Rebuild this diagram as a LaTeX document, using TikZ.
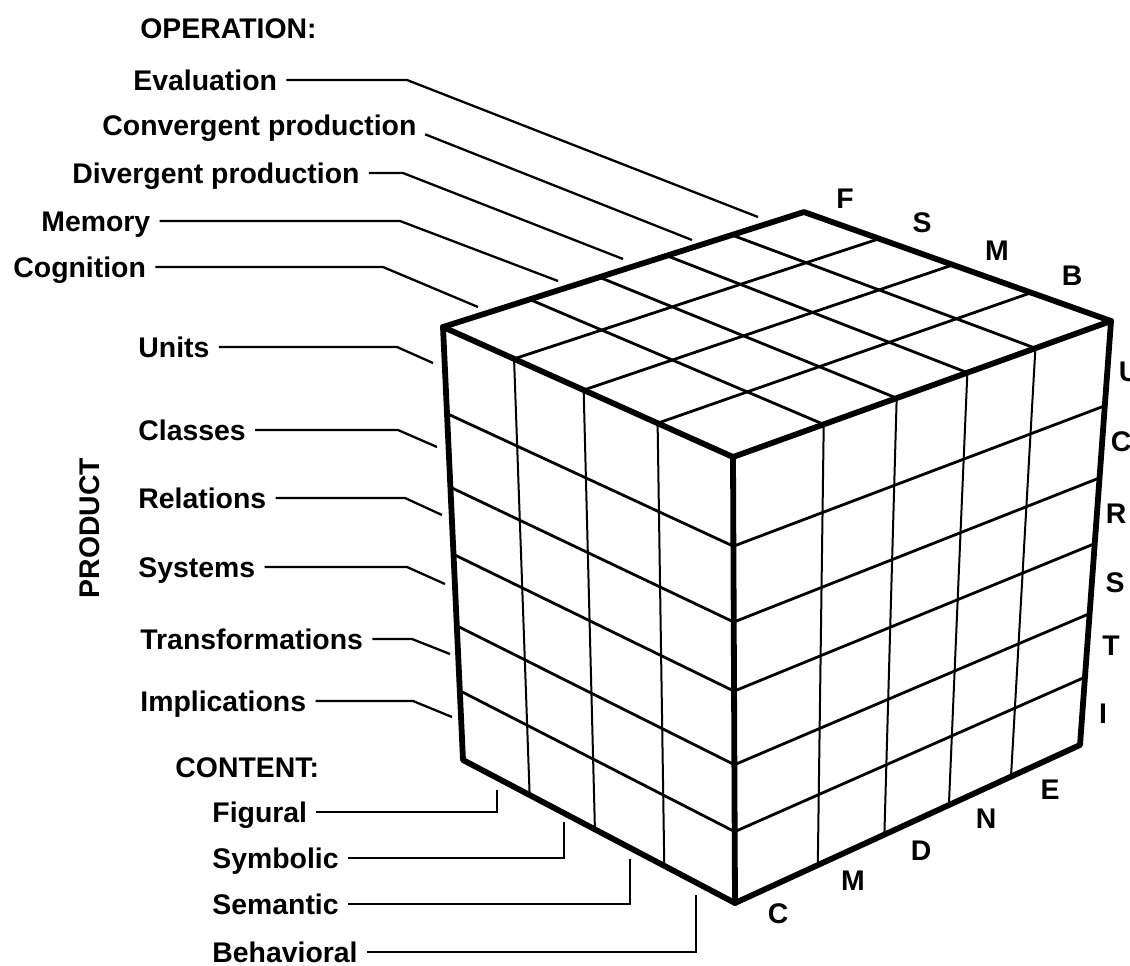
\documentclass[tikz,border=0pt]{standalone}
\usepackage{fontspec}
\setmainfont{Liberation Sans}
\usetikzlibrary{calc}
\tikzset{
  % Text labels
  lbl/.style={
    font=\fontsize{14.2}{16}\selectfont\bfseries,
    inner sep=0pt, text height=10pt, text depth=0pt,
    anchor=west
  },
  letter/.style={lbl, anchor=center},
  % Lines
  leader/.style={line width=1.15pt, shorten <=4.5pt},
  cube edge/.style={line width=2.9pt, line join=round, line cap=round},
  cell/.style={line width=1.4pt},
  cell thin/.style={line width=1pt},
}
\begin{document}
\begin{tikzpicture}[x=0.5pt, y=-0.5pt]
  \useasboundingbox (0,0) rectangle (1130,965);

  % Cube corners
  \coordinate (tl) at (443,327);
  \coordinate (tb) at (804,212);
  \coordinate (tr) at (1111,321);
  \coordinate (tf) at (733,457);
  \coordinate (bl) at (463,760);
  \coordinate (bf) at (735,903);
  \coordinate (br) at (1080,745);

  % Top face
  \foreach \t in {.24,.433,.62,.80}
    \draw[cell] ($(tl)!\t!(tb)$) -- ($(tf)!\t!(tr)$);
  \foreach \s in {.245,.485,.74}
    \draw[cell] ($(tl)!\s!(tf)$) -- ($(tb)!\s!(tr)$);
  % Left face
  \foreach \s in {.245,.485,.74}
    \draw[cell thin] ($(tl)!\s!(tf)$) -- ($(bl)!\s!(bf)$);
  \foreach \p in {.2,.37,.525,.69,.84}
    \draw[cell] ($(tl)!\p!(bl)$) -- ($(tf)!\p!(bf)$);
  % Right face
  \foreach \t in {.24,.433,.62,.80}
    \draw[cell thin] ($(tf)!\t!(tr)$) -- ($(bf)!\t!(br)$);
  \foreach \p in {.2,.37,.525,.69,.84}
    \draw[cell] ($(tf)!\p!(bf)$) -- ($(tr)!\p!(br)$);

  % Outline
  \draw[cube edge] (tl) -- (tb) -- (tr) -- (br) -- (bf) -- (bl) -- cycle;
  \draw[cube edge] (tl) -- (tf) -- (tr) (tf) -- (bf);

  % Operation
  \node[lbl] (oper) at (140,28) {OPERATION:};
  \node[lbl] (eval) at (133,80) {Evaluation};
  \node[lbl] (conv) at (102,125) {Convergent production};
  \node[lbl] (div) at (72,173) {Divergent production};
  \node[lbl] (mem) at (41,221) {Memory};
  \node[lbl] (cog) at (13,267) {Cognition};
  \coordinate (tEval) at (758,217);
  \coordinate (tConv) at (692,240);
  \coordinate (tDiv) at (623,259);
  \coordinate (tMem) at (558,281);
  \coordinate (tCog) at (478,307);
  \draw[leader] (eval.east) -- (eval.east -| 407,0) -- (tEval);
  \draw[leader] ([yshift=-3pt]conv.east) -- (tConv);
  \draw[leader] (div.east) -- (div.east -| 403,0) -- (tDiv);
  \draw[leader] (mem.east) -- (mem.east -| 400,0) -- (tMem);
  \draw[leader] (cog.east) -- (cog.east -| 383,0) -- (tCog);

  % Product
  \node[letter, rotate=90] (prod) at (89,528) {PRODUCT};
  \node[lbl] (unit) at (138,347) {Units};
  \node[lbl] (clas) at (138,430) {Classes};
  \node[lbl] (rel) at (138,498) {Relations};
  \node[lbl] (sys) at (138,567) {Systems};
  \node[lbl] (trans) at (140,639) {Transformations};
  \node[lbl] (impl) at (140,701) {Implications};
  \coordinate (tUnit) at (433,363);
  \coordinate (tClas) at (437,447);
  \coordinate (tRel) at (442,515);
  \coordinate (tSys) at (445,584);
  \coordinate (tTrans) at (450,654);
  \coordinate (tImpl) at (452,717);
  \draw[leader] (unit.east) -- (unit.east -| 397,0) -- (tUnit);
  \draw[leader] (clas.east) -- (clas.east -| 398,0) -- (tClas);
  \draw[leader] (rel.east) -- (rel.east -| 405,0) -- (tRel);
  \draw[leader] (sys.east) -- (sys.east -| 407,0) -- (tSys);
  \draw[leader] (trans.east) -- (trans.east -| 412,0) -- (tTrans);
  \draw[leader] (impl.east) -- (impl.east -| 413,0) -- (tImpl);

  % Content
  \node[lbl] (cont) at (175,767) {CONTENT:};
  \node[lbl] (fig) at (212,812) {Figural};
  \node[lbl] (sym) at (212,858) {Symbolic};
  \node[lbl] (sem) at (212,904) {Semantic};
  \node[lbl] (beh) at (212,952) {Behavioral};
  \coordinate (tFig) at (497,790);
  \coordinate (tSym) at (564,822);
  \coordinate (tSem) at (630,859);
  \coordinate (tBeh) at (696,895);
  \draw[leader] (fig.east) -| (tFig);
  \draw[leader] (sym.east) -| (tSym);
  \draw[leader] (sem.east) -| (tSem);
  \draw[leader] (beh.east) -| (tBeh);

  % Edge letters
  \node[letter] (cF) at (845,198) {F};
  \node[letter] (cS) at (922,222) {S};
  \node[letter] (cM) at (997,250) {M};
  \node[letter] (cB) at (1072,275) {B};
  \node[letter] (pU) at (1129,371) {U};
  \node[letter] (pC) at (1121,441) {C};
  \node[letter] (pR) at (1116,513) {R};
  \node[letter] (pS) at (1115,582) {S};
  \node[letter] (pT) at (1111,645) {T};
  \node[letter] (pI) at (1103,713) {I};
  \node[letter] (oC) at (778,913) {C};
  \node[letter] (oM) at (853,880) {M};
  \node[letter] (oD) at (921,850) {D};
  \node[letter] (oN) at (986,818) {N};
  \node[letter] (oE) at (1050,789) {E};
\end{tikzpicture}
\end{document}
